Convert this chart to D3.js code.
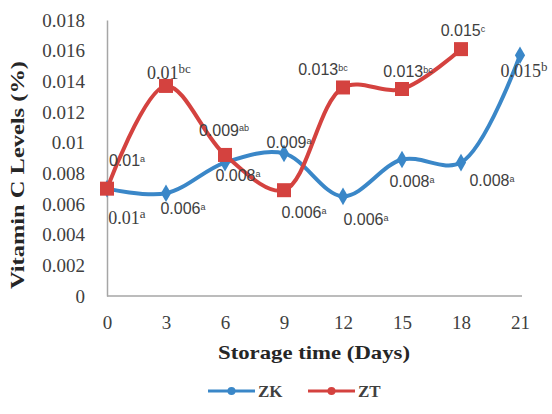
<!DOCTYPE html>
<html>
<head>
<meta charset="utf-8">
<script src="https://cdn.jsdelivr.net/npm/d3@7"></script>
<style>
  body { margin: 0; background: #fff; }
</style>
</head>
<body>
<script>
// data
var days = [0, 3, 6, 9, 12, 15, 18, 21];
var zkValues = [0.0070, 0.0067, 0.0087, 0.0093, 0.0065, 0.0089, 0.0087, 0.0157];
var ztValues = [0.0070, 0.0137, 0.0092, 0.0069, 0.0136, 0.0135, 0.0161];
var zkLabels = [["0.01", "a"], ["0.006", "a"], ["0.008", "a"], ["0.009", "a"], ["0.006", "a"], ["0.008", "a"], ["0.008", "a"], ["0.015", "b"]];
var ztLabels = [["0.01", "a"], ["0.01", "bc"], ["0.009", "ab"], ["0.006", "a"], ["0.013", "bc"], ["0.013", "bc"], ["0.015", "c"]];
var yTicks = [0, 0.002, 0.004, 0.006, 0.008, 0.01, 0.012, 0.014, 0.016, 0.018];
var yTickLabels = ["0", "0.002", "0.004", "0.006", "0.008", "0.01", "0.012", "0.014", "0.016", "0.018"];
var seriesNames = ["ZK", "ZT"];

// label placement around each point (dx, dy, serif?)
var zkLabelPos = [[20, 29, 1], [17, 15, 0], [13, 13, 0], [5, -11, 0], [23, 23, 0], [10, 22, 0], [31, 18, 0], [4, 15, 1]];
var ztLabelPos = [[20, -28, 0], [3, -13, 1], [-1, -25, 0], [20, 22, 0], [-20, -18, 0], [6, -18, 0], [2, -19, 0]];

var blue = "#3a87c8", red = "#d4423f";

var W = 552, H = 414;
var svg = d3.select("body").append("svg")
    .attr("width", W)
    .attr("height", H)
    .style("font-family", "'Liberation Serif', 'Times New Roman', serif");

var x = d3.scaleLinear().domain([0, 21]).range([107, 520]);
var y = d3.scaleLinear().domain([0, 0.018]).range([296, 20]);

// Y axis
var yAxis = svg.append("g")
    .attr("transform", "translate(107,0)")
    .call(d3.axisLeft(y).tickValues(yTicks).tickSize(0).tickPadding(22)
      .tickFormat(function(d, i) { return yTickLabels[i]; }));
yAxis.select(".domain").attr("stroke", "#a6a6a6").attr("stroke-width", 1.5);
yAxis.selectAll("text")
    .attr("font-family", "'Liberation Serif', serif")
    .attr("font-size", 19)
    .attr("fill", "#404040");

// X axis
var xAxis = svg.append("g")
    .attr("transform", "translate(0,296)")
    .call(d3.axisBottom(x).tickValues(days).tickSize(0).tickPadding(20));
xAxis.select(".domain").attr("stroke", "#a6a6a6").attr("stroke-width", 1.5)
    .attr("d", "M" + x(0) + ",0H" + (x(21) + 2));
xAxis.selectAll("text")
    .attr("font-family", "'Liberation Serif', serif")
    .attr("font-size", 19)
    .attr("fill", "#404040");

// axis titles
svg.append("text")
    .attr("transform", "translate(24,175) rotate(-90)")
    .attr("text-anchor", "middle")
    .attr("font-weight", "bold")
    .attr("font-size", 18)
    .attr("fill", "#262626")
    .attr("textLength", 228)
    .attr("lengthAdjust", "spacingAndGlyphs")
    .text("Vitamin C Levels (%)");

svg.append("text")
    .attr("x", 314)
    .attr("y", 359)
    .attr("text-anchor", "middle")
    .attr("font-weight", "bold")
    .attr("font-size", 19)
    .attr("fill", "#262626")
    .attr("textLength", 192)
    .attr("lengthAdjust", "spacingAndGlyphs")
    .text("Storage time (Days)");

var line = d3.line()
    .x(function(d) { return x(d[0]); })
    .y(function(d) { return y(d[1]); })
    .curve(d3.curveCatmullRom.alpha(0.5));

var zk = days.map(function(d, i) { return [d, zkValues[i]]; });
var zt = ztValues.map(function(v, i) { return [days[i], v]; });

// ZK line + diamonds
svg.append("path")
    .datum(zk)
    .attr("fill", "none")
    .attr("stroke", blue)
    .attr("stroke-width", 4)
    .attr("d", line);

svg.selectAll(".zk")
    .data(zk)
    .enter()
    .append("path")
      .attr("d", d3.symbol(d3.symbolDiamond, 90))
      .attr("transform", function(d) { return "translate(" + x(d[0]) + "," + y(d[1]) + ")"; })
      .attr("fill", blue);

// ZT line + squares
svg.append("path")
    .datum(zt)
    .attr("fill", "none")
    .attr("stroke", red)
    .attr("stroke-width", 4)
    .attr("d", line);

svg.selectAll(".zt")
    .data(zt)
    .enter()
    .append("rect")
      .attr("x", function(d) { return x(d[0]) - 7; })
      .attr("y", function(d) { return y(d[1]) - 7; })
      .attr("width", 14)
      .attr("height", 14)
      .attr("fill", red);

// data labels
function addLabels(points, labels, pos) {
  points.forEach(function(d, i) {
    var serif = pos[i][2] === 1;
    var t = svg.append("text")
        .attr("x", x(d[0]) + pos[i][0])
        .attr("y", y(d[1]) + pos[i][1])
        .attr("dy", "0.35em")
        .attr("text-anchor", "middle")
        .attr("font-family", serif ? "'Liberation Serif', serif" : "'Liberation Sans', Arial, sans-serif")
        .attr("font-size", serif ? 18 : 16)
        .attr("fill", "#404040");
    t.append("tspan").text(labels[i][0]);
    t.append("tspan")
        .attr("dy", "-0.45em")
        .attr("font-size", serif ? 13 : 9)
        .text(labels[i][1]);
  });
}
addLabels(zk, zkLabels, zkLabelPos);
addLabels(zt, ztLabels, ztLabelPos);

// legend
var legend = svg.append("g").attr("transform", "translate(208,391)");
seriesNames.forEach(function(name, i) {
  var g = legend.append("g").attr("transform", "translate(" + (i * 100) + ",0)");
  var c = i === 0 ? blue : red;
  g.append("line").attr("x1", 0).attr("x2", 47).attr("stroke", c).attr("stroke-width", 3);
  g.append("circle").attr("cx", 23.5).attr("r", 4).attr("fill", c);
  g.append("text")
      .attr("x", 50)
      .attr("dy", "0.35em")
      .attr("font-weight", "bold")
      .attr("font-size", 17)
      .attr("fill", "#404040")
      .text(name);
});
</script>
</body>
</html>
